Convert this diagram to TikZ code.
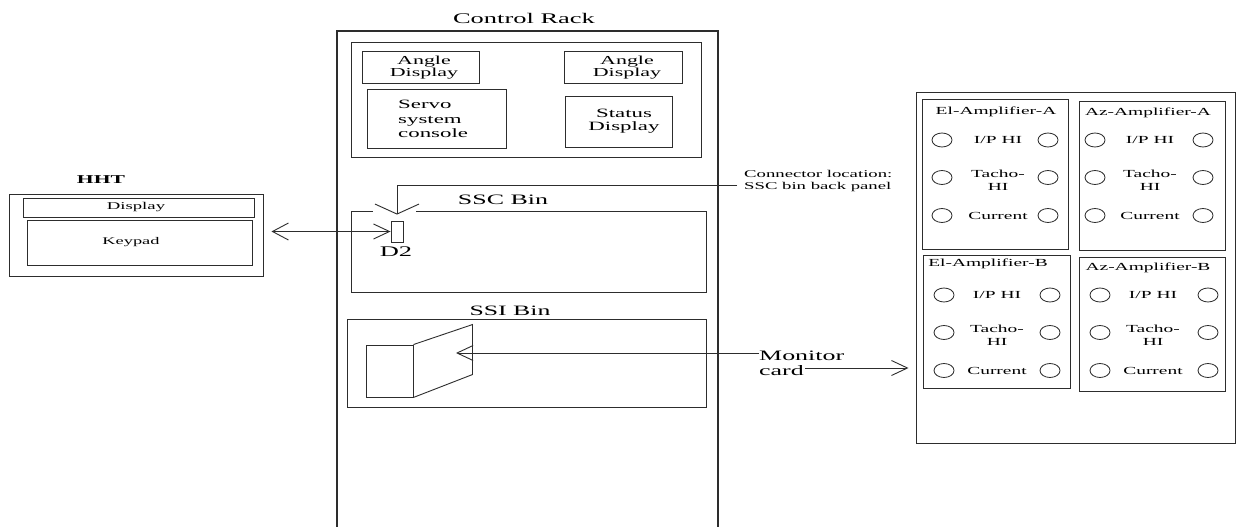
\documentclass[tikz,border=0pt]{standalone}
\usepackage{fontspec}
\setmainfont[FakeStretch=1.8]{Liberation Serif}
\usetikzlibrary{arrows.meta,shapes.geometric,calc}
\definecolor{ln}{RGB}{45,45,45}
\newcommand\fs[2]{\fontsize{#1}{#2}\selectfont}
\tikzset{
  box/.style={draw=ln, line width=1pt, inner sep=0pt},
  txt/.style={inner sep=0pt, align=center, text=black},
  port/.style={draw=ln, ellipse, line width=0.8pt, minimum width=20pt, minimum height=14pt, inner sep=0pt},
  conn/.style={draw=ln, line width=0.9pt},
  dblarrow/.style={conn, {Straight Barb[length=16pt,width=17pt]}-{Straight Barb[length=16pt,width=15pt]}},
  locarrow/.style={conn, -{Straight Barb[length=10pt,width=44pt]}},
  monarrow/.style={conn, -{Straight Barb[length=16pt,width=15pt]}}
}
% name, left, top, right, bottom
\newcommand\rectnode[6][]{\node[box,#1, minimum width={(#5-#3)*1pt}, minimum height={(#6-#4)*1pt}] (#2) at ({(#3+#5)/2},{(#4+#6)/2}) {};}
% name, label, label x, label y, left port x, right port x, text x, row1 y
\newcommand\ampcontent[8]{%
  \node[txt, font=\fs{10.8}{12}] (#1lab) at (#3,#4) {#2};
  \node[port] (#1pal) at (#5,#8) {};
  \node[port] (#1par) at (#6,#8) {};
  \node[port] (#1pbl) at (#5,#8+37.5) {};
  \node[port] (#1pbr) at (#6,#8+37.5) {};
  \node[port] (#1pcl) at (#5,#8+75.5) {};
  \node[port] (#1pcr) at (#6,#8+75.5) {};
  \node[txt, font=\fs{10.8}{12}] (#1ta) at (#7,#8) {I/P\hspace{0.45em}HI};
  \node[txt, font=\fs{10.8}{13}] (#1tb) at (#7,#8+40) {Tacho-\\HI};
  \node[txt, font=\fs{10.8}{12}] (#1tc) at (#7,#8+75.5) {Current};
}
\begin{document}
\begin{tikzpicture}[x=1pt,y=-1pt]
\fill[white] (0,0) rectangle (1236,527);
\useasboundingbox (0,0) rectangle (1236,527);

% ---------------- Control rack ----------------
\rectnode[line width=1.3pt]{rack}{337}{31}{718}{545}
\node[txt, font=\fs{14.7}{16}] (racklab) at (524,18) {Control Rack};
\rectnode{toppanel}{351}{43}{701}{157}
\rectnode{ang1}{362}{52}{479}{83}
\node[txt, font=\fs{12.2}{12}] (ang1t) at (424,68) {Angle\\Display};
\rectnode{ang2}{564}{52}{682}{83}
\node[txt, font=\fs{12.2}{12}] (ang2t) at (627,68) {Angle\\Display};
\rectnode{servo}{367}{89}{506}{148}
\node[txt, align=left, anchor=west, font=\fs{12.7}{14.5}] (servot) at (398,119) {Servo\\system\\console};
\rectnode{status}{565}{96}{672}{147}
\node[txt, font=\fs{12.7}{13}] (statust) at (624,121.5) {Status\\Display};

% SSC bin
\rectnode{ssc}{351}{211}{706}{292}
\draw[white, line width=2pt] ($(ssc.north west)+(22,0)$) -- ($(ssc.north west)+(65,0)$);
\node[txt, font=\fs{14.4}{16}] (ssclab) at (503,200) {SSC Bin};
\rectnode[line width=0.9pt]{d2}{391}{221}{403}{242}
\node[txt, font=\fs{14.7}{16}] (d2lab) at (396,252) {D2};
\node[txt, align=left, anchor=west, font=\fs{10.4}{12}] (con) at (744,181) {Connector location:\\SSC bin back panel};
\draw[locarrow, shorten >=6pt] ([xshift=-7pt,yshift=-4pt]con.west) -| (d2.north);

% SSI bin
\rectnode{ssi}{347}{319}{706}{407}
\node[txt, font=\fs{14.3}{16}] (ssilab) at (510,311) {SSI Bin};
\rectnode[line width=0.9pt]{card}{366}{345}{413}{397}
\draw[conn] (card.north east) -- ++(59,-20) -- ++(0,50) -- (card.south east);

% Monitor card
\node[txt, align=left, anchor=west, font=\fs{14.4}{15}] (mon) at (759,363) {Monitor\\card};
\coordinate (mtip) at (456,353);
\draw[monarrow] (mon.west |- mtip) -- (mtip);
\coordinate (cardrow) at (805,368);

% ---------------- HHT ----------------
\node[txt, font=\bfseries\fs{12}{14}] (hhtlab) at (101,180) {HHT};
\rectnode{hht}{9}{194}{263}{276}
\rectnode{hhtdisp}{23}{198}{254}{217}
\node[txt, font=\fs{10.4}{12}] (hhtdispt) at (136,207.5) {Display};
\rectnode{keypad}{27}{220}{252}{265}
\node[txt, font=\fs{10.2}{12}] (keypadt) at (131,242) {Keypad};
\draw[dblarrow, shorten <=8pt] (hht.east |- d2.west) -- (d2.west);

% ---------------- Amplifier panel ----------------
\rectnode{amp}{916}{92}{1235}{443}
\rectnode{elA}{922}{99}{1068}{249}
\rectnode{azA}{1079}{101}{1225}{250}
\rectnode{elB}{923}{255}{1070}{388}
\rectnode{azB}{1079}{257}{1225}{391}
\ampcontent{ea}{El-Amplifier-A}{996}{112}{942}{1048}{998}{140}
\ampcontent{za}{Az-Amplifier-A}{1148}{113}{1095}{1203}{1150}{140}
\ampcontent{eb}{El-Amplifier-B}{988}{264}{944}{1050}{997}{295}
\ampcontent{zb}{Az-Amplifier-B}{1148}{268}{1100}{1208}{1153}{295}

\draw[monarrow, shorten >=7pt] (cardrow) -- (cardrow -| amp.west);
\end{tikzpicture}
\end{document}
